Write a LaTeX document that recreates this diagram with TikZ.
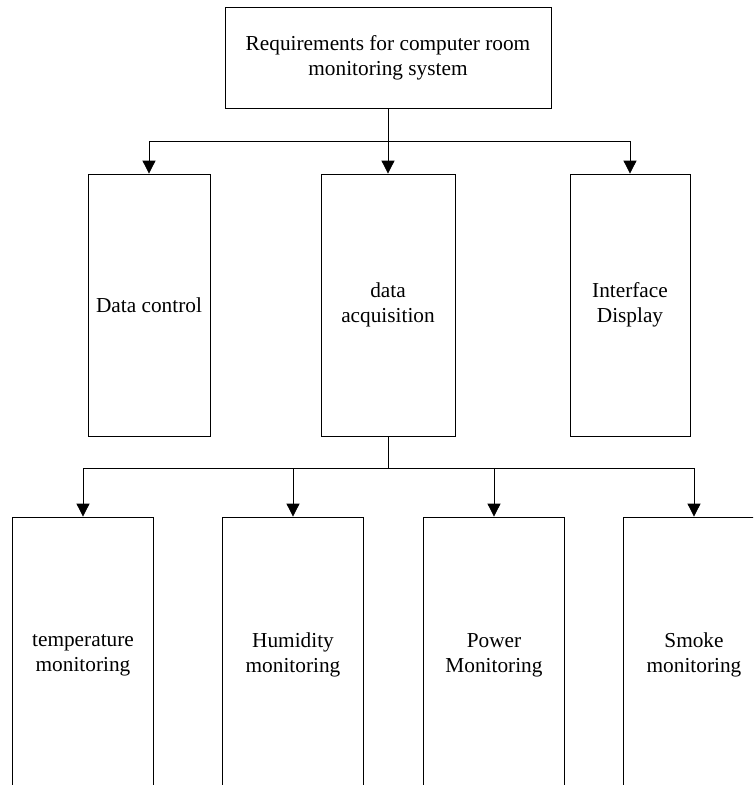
\documentclass[tikz,border=0pt]{standalone}
\usepackage{fontspec}
\setmainfont{Liberation Serif}
\usetikzlibrary{arrows.meta}

\begin{document}
\begin{tikzpicture}[x=1pt, y=-1pt,
    box/.style={draw, line width=0.8pt, align=center, inner sep=0pt,
        font=\fontsize{21.3}{25}\selectfont},
    link/.style={line width=0.8pt},
    arr/.style={line width=0.8pt, -{Triangle[width=13pt,length=13pt]}}]
    \useasboundingbox (0,0) rectangle (753,785);
    \clip (0,0) rectangle (753,785);
    % top level
    \node[box, minimum width=326pt, minimum height=101pt] (req) at (388,57.5) {Requirements for computer room\\monitoring system};
    % second level
    \node[box, minimum width=122pt, minimum height=262pt] (ctrl) at (149,305) {Data control};
    \node[box, minimum width=134pt, minimum height=262pt] (acq)  at (388,305) {data\\acquisition};
    \node[box, minimum width=120pt, minimum height=262pt] (disp) at (630,305) {Interface\\Display};
    % third level
    \node[box, minimum width=141pt, minimum height=276pt] (temp)  at (83,655)  {temperature\\monitoring};
    \node[box, minimum width=141pt, minimum height=276pt] (humid) at (293,655) {Humidity\\monitoring};
    \node[box, minimum width=141pt, minimum height=276pt] (power) at (494,655) {Power\\Monitoring};
    \node[box, minimum width=141pt, minimum height=276pt] (smoke) at (694,655) {Smoke\\monitoring};
    % connectors
    \coordinate (j1) at (388,141);
    \coordinate (j2) at (388,468);
    \draw[link] (req) -- (j1);
    \draw[arr] (j1) -| (ctrl.north);
    \draw[arr] (j1) -- (acq);
    \draw[arr] (j1) -| (disp.north);
    \draw[link] (acq) -- (j2);
    \draw[arr] (j2) -| (temp.north);
    \draw[arr] (j2) -| (humid.north);
    \draw[arr] (j2) -| (power.north);
    \draw[arr] (j2) -| (smoke.north);
\end{tikzpicture}
\end{document}
